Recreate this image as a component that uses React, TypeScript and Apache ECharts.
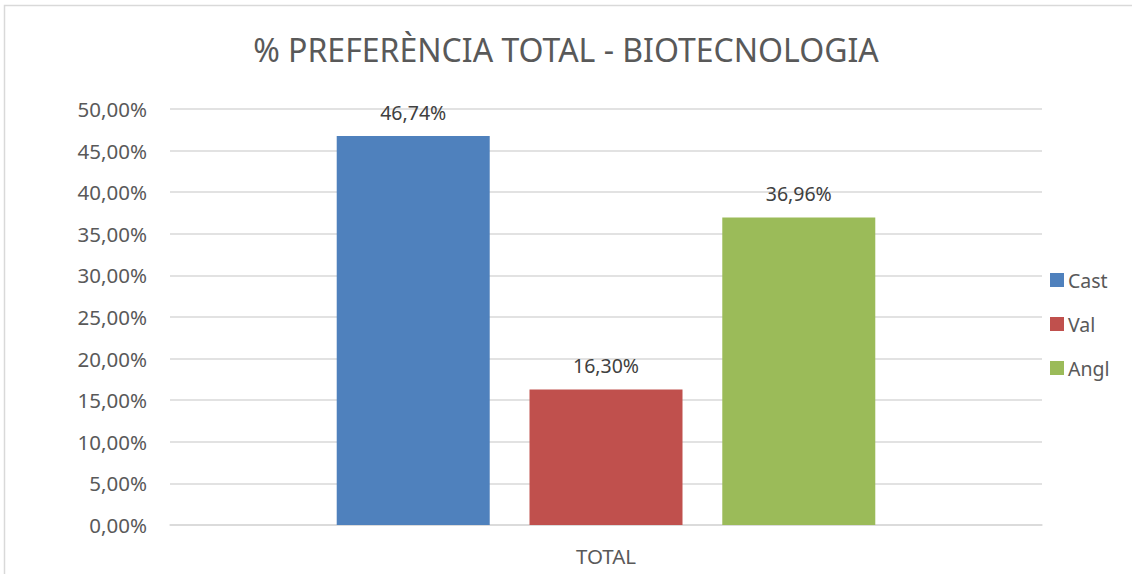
import React, { useEffect, useRef } from "react";
import * as echarts from "echarts";

const categories = ["TOTAL"];
const seriesNames = ["Cast", "Val", "Angl"];
const castValues = [46.74];
const valValues = [16.3];
const anglValues = [36.96];
const colors = ["#4F81BD", "#C0504D", "#9BBB59"];
const titleText = "% PREFERÈNCIA TOTAL - BIOTECNOLOGIA";

const fmt = (v: number) => v.toFixed(2).replace(".", ",") + "%";
const FONT = "Noto Sans";

export default function App() {
  const ref = useRef<HTMLDivElement>(null);
  useEffect(() => {
    document.body.style.margin = "0";
    const chart = echarts.init(ref.current!, undefined, { renderer: "svg" });
    const values = [castValues, valValues, anglValues];
    chart.setOption({
      animation: false,
      backgroundColor: "#ffffff",
      title: {
        text: titleText,
        left: "center",
        top: 28,
        textStyle: { fontFamily: FONT, fontSize: 32, fontWeight: "normal", color: "#595959" },
      },
      graphic: [
        {
          type: "rect",
          shape: { x: 4.5, y: 5.5, width: 1140, height: 600 },
          style: { fill: "none", stroke: "#D9D9D9", lineWidth: 1.5 },
          silent: true,
        },
      ],
      legend: {
        orient: "vertical",
        left: 1045,
        top: 265,
        itemWidth: 14,
        itemHeight: 14,
        itemGap: 24,
        icon: "rect",
        textStyle: { fontFamily: FONT, fontSize: 19.5, color: "#595959", padding: [0, 0, 0, -1] },
        data: seriesNames,
      },
      grid: { left: 170, right: 90, top: 109, bottom: 49, containLabel: false },
      xAxis: {
        type: "category",
        data: categories,
        axisLine: { show: true, lineStyle: { color: "#D9D9D9", width: 1.5 } },
        axisTick: { show: false },
        axisLabel: { fontFamily: FONT, fontSize: 20.5, color: "#595959", margin: 20 },
      },
      yAxis: {
        type: "value",
        min: 0,
        max: 50,
        interval: 5,
        axisLine: { show: false },
        axisTick: { show: false },
        splitLine: { lineStyle: { color: "#D9D9D9", width: 1.5 } },
        axisLabel: {
          fontFamily: FONT,
          fontSize: 20.5,
          color: "#595959",
          margin: 23,
          formatter: (v: number) => fmt(v),
        },
      },
      series: seriesNames.map((name, i) => ({
        name,
        type: "bar",
        data: values[i],
        barWidth: 153,
        barGap: "26%",
        itemStyle: { color: colors[i] },
        label: {
          show: true,
          position: "top",
          distance: 14,
          fontFamily: FONT,
          fontSize: 19.5,
          color: "#404040",
          formatter: (p: any) => fmt(p.value),
        },
      })),
    });
    return () => chart.dispose();
  }, []);
  return <div ref={ref} style={{ width: 1132, height: 574 }} />;
}
